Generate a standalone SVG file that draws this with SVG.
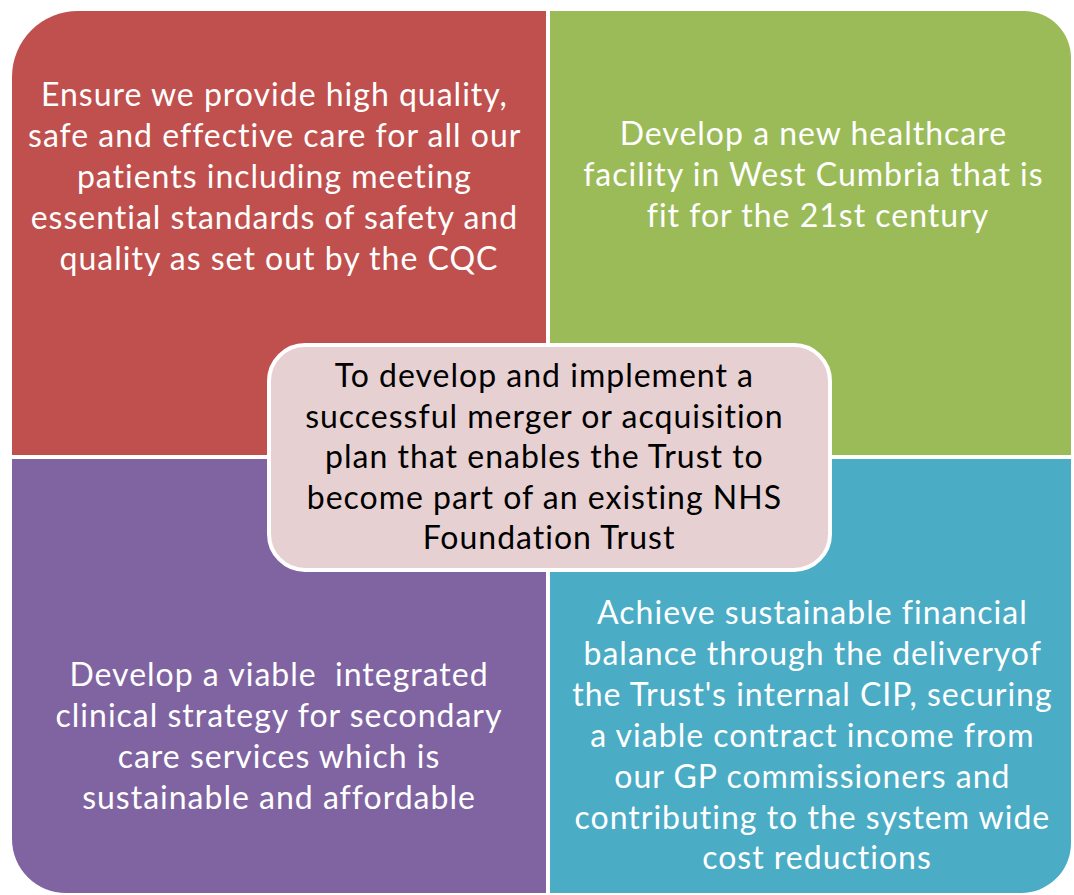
<svg xmlns="http://www.w3.org/2000/svg" width="1074" height="895" viewBox="0 0 1074 895">
<style>
  .q { font-family: Lato, "Open Sans", "Liberation Sans", sans-serif; font-size: 32px; letter-spacing: 1px; text-anchor: middle; }
  .w { fill: #ffffff; }
  .k { fill: #000000; }
</style>
<rect width="1074" height="895" fill="#ffffff"/>
<g id="quality">
  <path d="M78 11 H546 V455 H12 V77 A66 66 0 0 1 78 11 Z" fill="#C0504D"/>
  <text class="q w">
    <tspan x="279" y="106">Ensure we provide high quality,</tspan>
    <tspan x="279" y="147">safe and effective care for all our</tspan>
    <tspan x="279" y="188">patients including meeting</tspan>
    <tspan x="279" y="229">essential standards of safety and</tspan>
    <tspan x="279" y="270">quality as set out by the CQC</tspan>
  </text>
</g>
<g id="facility">
  <path d="M550 11 H1024 A47 47 0 0 1 1071 58 V455 H550 Z" fill="#9BBB59"/>
  <text class="q w">
    <tspan x="818" y="145">Develop a new healthcare</tspan>
    <tspan x="818" y="186">facility in West Cumbria that is</tspan>
    <tspan x="818" y="227">fit for the 21st century</tspan>
  </text>
</g>
<g id="clinical">
  <path d="M12 459 H546 V893 H66 A54 54 0 0 1 12 839 Z" fill="#8064A2"/>
  <text class="q w" xml:space="preserve"><tspan x="279" y="686">Develop a viable  integrated</tspan><tspan x="279" y="727">clinical strategy for secondary</tspan><tspan x="279" y="768">care services which is</tspan><tspan x="279" y="809">sustainable and affordable</tspan></text>
</g>
<g id="financial">
  <path d="M550 459 H1071 V843 A50 50 0 0 1 1021 893 H550 Z" fill="#4BACC6"/>
  <text class="q w">
    <tspan x="817" y="624">Achieve sustainable financial</tspan>
    <tspan x="817" y="665">balance through the deliveryof</tspan>
    <tspan x="817" y="706">the Trust's internal CIP, securing</tspan>
    <tspan x="817" y="747">a viable contract income from</tspan>
    <tspan x="817" y="788">our GP commissioners and</tspan>
    <tspan x="817" y="829">contributing to the system wide</tspan>
    <tspan x="817" y="869">cost reductions</tspan>
  </text>
</g>
<g id="merger">
  <rect x="269" y="345" width="561" height="225" rx="36" ry="36" fill="#E7D0D1" stroke="#ffffff" stroke-width="4"/>
  <text class="q k">
    <tspan x="549" y="387">To develop and implement a</tspan>
    <tspan x="549" y="428">successful merger or acquisition</tspan>
    <tspan x="549" y="468">plan that enables the Trust to</tspan>
    <tspan x="549" y="509">become part of an existing NHS</tspan>
    <tspan x="549" y="549">Foundation Trust</tspan>
  </text>
</g>
<g id="connectors"></g>
</svg>
